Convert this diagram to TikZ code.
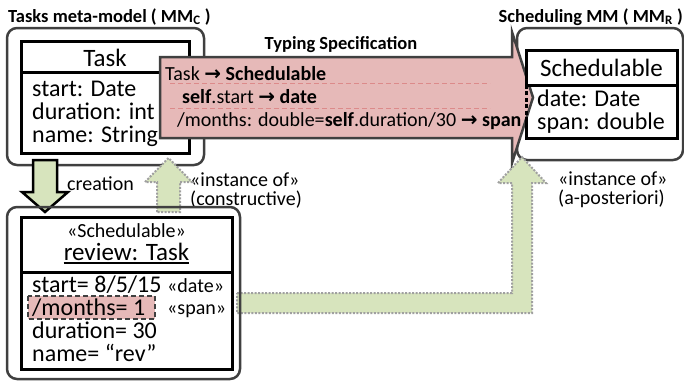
\documentclass[tikz,border=0pt]{standalone}
\usepackage{fontspec}
\setmainfont{Carlito}
\newfontfamily\arrowfont{DejaVu Sans}
\definecolor{pinkfill}{HTML}{E6B9B8}
\definecolor{pinkdash}{HTML}{DC8A8A}
\definecolor{greenfill}{HTML}{D7E4BD}
\definecolor{dotgray}{HTML}{A0A0A0}
\definecolor{boxgray}{HTML}{404040}
\newcommand{\rarr}{{\arrowfont\bfseries →}}
\newcommand{\attrf}{\fontsize{24}{23}\selectfont}
\newcommand{\headf}{\fontsize{25}{25}\selectfont}
\newcommand{\labf}{\fontsize{20}{16.5}\selectfont}
\newcommand{\specf}{\fontsize{20}{20}\selectfont}
\newcommand{\titf}{\fontsize{18.5}{18.5}\selectfont\bfseries}
\tikzset{
  txt/.style={inner sep=0pt, anchor=base west},
  ctxt/.style={inner sep=0pt, anchor=base},
  outerbox/.style={draw=boxgray, line width=2.5pt, rounded corners=10pt},
  classbox/.style={draw=black, line width=3pt},
  specarrow/.style={draw=boxgray, line width=2.5pt, fill=pinkfill, line join=miter},
  instarrow/.style={draw=dotgray, line width=2pt, dash pattern=on 2pt off 1.5pt, fill=greenfill, line join=miter},
  creatarrow/.style={draw=black, line width=2.5pt, fill=greenfill, line join=miter},
  specline/.style={draw=pinkdash, line width=1pt, dash pattern=on 5pt off 3pt},
}
\begin{document}
\begin{tikzpicture}[x=1pt,y=-1pt]
\useasboundingbox (0,0) rectangle (684,383);
% titles
\node[txt] (t1) at (8,22) {\titf Tasks meta-model ( MM\textsubscript{C} )};
\node[inner sep=0pt, anchor=base east] (t2) at (683,22) {\titf Scheduling MM ( MM\textsubscript{R} )};
\node[ctxt] (t3) at (341,49) {\titf Typing Specification};
% MMc
\draw[outerbox] (7,28) rectangle (204,165);
\draw[classbox] (21,41) rectangle (189,153);
\draw[classbox] (21,72) -- (189,72);
\node[ctxt] (task) at (105,66) {\headf Task};
\node[txt] (a1) at (32,96) {\attrf start: Date};
\node[txt] (a2) at (32,119) {\attrf duration: int};
\node[txt] (a3) at (32,142) {\attrf name: String};
% MMR
\draw[outerbox] (517,28) rectangle (683,160);
% typing spec arrow
\draw[specarrow] (160,57) -- (512,57) -- (512,32) -- (533,97.5) -- (512,163) -- (512,138) -- (160,138) -- cycle;
\draw[specline] (170,83) -- (490,83);
\draw[specline] (170,108) -- (490,108);
\node[txt] (s1) at (165,80) {\specf Task \rarr{} \textbf{Schedulable}};
\node[txt] (s2) at (182,103) {\specf \textbf{self}.start \rarr{} \textbf{date}};
\node[txt] (s3) at (177,126) {\specf /months: double=\textbf{self}.duration/30 \rarr{} \textbf{span}};
% Schedulable class
\draw[classbox, fill=white] (526,50) rectangle (677,85);
\draw[classbox] (526,121) -- (526,138) -- (677,138) -- (677,85);
\draw[draw=black, line width=3pt, dash pattern=on 4pt off 2.5pt] (526,121) -- (526,85);
\node[ctxt] (sch) at (601.5,76) {\headf Schedulable};
\node[txt] (b1) at (537,106) {\attrf date: Date};
\node[txt] (b2) at (537,129.5) {\attrf span: double};
% instance-of labels
\node[txt] (l1) at (558,185.5) {\labf «instance of»};
\node[txt] (l2) at (558,204.5) {\labf (a-posteriori)};
\node[txt] (l3) at (190,186) {\labf «instance of»};
\node[txt] (l4) at (190,205) {\labf (constructive)};
\node[txt] (l5) at (67,190) {\labf creation};
% creation arrow
\draw[creatarrow] (33,160) -- (57,160) -- (57,192) -- (68,192) -- (45,212) -- (22,192) -- (33,192) -- cycle;
% constructive arrow
\draw[instarrow] (157,212) -- (157,182) -- (145,182) -- (168.5,158) -- (192,182) -- (180,182) -- (180,212) -- cycle;
% a-posteriori arrow
\draw[instarrow] (237,293) -- (512,293) -- (512,183) -- (498,183) -- (522,157) -- (546,183) -- (532,183) -- (532,313) -- (237,313) -- cycle;
% bottom object box
\draw[outerbox] (7,207) rectangle (240,379);
\draw[classbox] (21,217) rectangle (232,369);
\draw[classbox] (21,272) -- (232,272);
\node[ctxt] (st) at (126.5,237) {\labf «Schedulable»};
\node[ctxt] (rv) at (126.5,260) {\headf review: Task};
\draw[line width=1.8pt] ([yshift=-3pt]rv.base west) -- ([yshift=-3pt]rv.base east);
\draw[draw=boxgray, line width=2.5pt, dash pattern=on 5pt off 3pt, fill=pinkfill] (28,296) rectangle (155,319);
\node[txt] (c1) at (32,292) {\attrf start= 8/5/15};
\node[txt] (c2) at (32,315) {\attrf /months= 1};
\node[txt] (c3) at (32,338) {\attrf duration= 30};
\node[txt] (c4) at (32,361) {\attrf name= “rev”};
\node[txt] (d1) at (167,292) {\labf «date»};
\node[txt] (d2) at (167,314) {\labf «span»};
\end{tikzpicture}
\end{document}
